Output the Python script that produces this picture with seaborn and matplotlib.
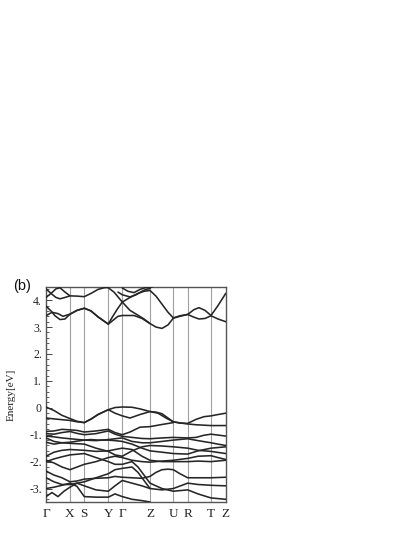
import numpy as np
import pandas as pd
import matplotlib
matplotlib.use("Agg")
import matplotlib.pyplot as plt
import seaborn as sns
from matplotlib.ticker import FixedLocator, FixedFormatter, MultipleLocator

sns.set_theme(style="white")
plt.rcParams['font.family'] = ['Liberation Serif', 'DejaVu Serif']

# high-symmetry path (cumulative k distance) and labels
kpoint_pos = [0, 24, 38.3, 62.3, 76.3, 104, 127.3, 141.7, 165, 179.7]
kpoint_labels = ["Γ", "X", "S", "Y", "Γ", "Z", "U", "R", "T", "Z"]

# y ticks
ytick_vals = [4, 3, 2, 1, 0, -1, -2, -3]
ytick_text = ["4.", "3.", "2.", "1.", "0", "-1.", "-2.", "-3."]

# ---- bands (k, E[eV]) ----
c1_k = [0, 6, 12, 17, 24, 31, 38.3, 45, 52, 62.3, 67, 72, 76.3, 88, 96, 104, 110, 116, 122, 127.3, 134, 141.7, 147, 153, 159, 165, 172, 179.7]
c1_E = [3.42, 3.55, 3.50, 3.40, 3.48, 3.62, 3.70, 3.60, 3.38, 3.11, 3.25, 3.40, 3.43, 3.43, 3.32, 3.13, 3.00, 2.95, 3.08, 3.33, 3.40, 3.47, 3.38, 3.30, 3.32, 3.42, 3.30, 3.20]
c2_k = [0, 5, 9, 14, 19, 24, 31, 38.3, 45, 52, 62.3, 66, 71, 76.3, 84, 92, 98, 104, 110, 116, 122, 127.3, 134, 141.7, 148, 153, 159, 165, 172, 179.7]
c2_E = [3.78, 3.60, 3.42, 3.28, 3.30, 3.48, 3.62, 3.70, 3.60, 3.38, 3.11, 3.35, 3.65, 3.93, 4.10, 4.25, 4.33, 4.36, 4.15, 3.85, 3.55, 3.34, 3.42, 3.47, 3.65, 3.72, 3.62, 3.43, 3.80, 4.25]
c3_k = [62.3, 68, 76.3, 84, 92, 98, 104]
c3_E = [4.46, 4.30, 3.93, 3.62, 3.44, 3.30, 3.13]
c4_k = [0, 5, 10, 14, 19, 24, 31, 38.3, 45, 52, 58, 62.3]
c4_E = [4.42, 4.25, 4.10, 4.05, 4.10, 4.16, 4.15, 4.13, 4.25, 4.40, 4.46, 4.47]
c5_k = [0, 5, 10, 14, 19, 24]
c5_E = [4.10, 4.25, 4.42, 4.46, 4.30, 4.16]
c6_k = [76.3, 82, 88, 94, 100, 104, 108]
c6_E = [4.45, 4.33, 4.28, 4.40, 4.47, 4.46, 4.52]
c7_k = [72, 76.3, 84, 90, 96, 100, 104]
c7_E = [4.30, 4.20, 4.12, 4.20, 4.33, 4.40, 4.43]

v1_k = [0, 8, 16, 24, 31, 38.3, 45, 52, 62.3, 69, 76.3, 86, 94, 104, 110, 116, 122, 127.3, 134, 141.7, 150, 158, 165, 172, 179.7]
v1_E = [0.03, -0.10, -0.28, -0.40, -0.50, -0.55, -0.42, -0.25, -0.07, 0.01, 0.03, 0.02, -0.04, -0.14, -0.16, -0.22, -0.38, -0.52, -0.57, -0.58, -0.43, -0.33, -0.30, -0.25, -0.20]
v2_k = [0, 10, 24, 31, 38.3, 45, 52, 62.3, 69, 76.3, 84, 94, 104, 112, 120, 127.3, 134, 141.7, 150, 165, 179.7]
v2_E = [-0.38, -0.42, -0.47, -0.52, -0.55, -0.42, -0.25, -0.07, -0.20, -0.30, -0.38, -0.25, -0.14, -0.20, -0.38, -0.52, -0.56, -0.60, -0.63, -0.66, -0.66]
v3_k = [0, 8, 16, 24, 31, 38.3, 50, 62.3, 69, 76.3, 84, 94, 104, 116, 127.3]
v3_E = [-0.88, -0.86, -0.80, -0.82, -0.84, -0.90, -0.86, -0.80, -0.92, -1.00, -0.90, -0.72, -0.70, -0.62, -0.55]
v4_k = [0, 8, 16, 24, 31, 38.3, 50, 62.3, 69, 76.3, 86, 96, 104, 116, 127.3, 141.7, 150, 158, 165, 179.7]
v4_E = [-0.96, -0.98, -0.92, -0.88, -0.95, -1.00, -0.96, -0.86, -0.98, -1.06, -1.10, -1.14, -1.15, -1.12, -1.10, -1.12, -1.10, -1.02, -0.98, -1.05]
v5_k = [0, 8, 16, 24, 38.3, 50, 62.3, 69, 76.3, 86, 96, 104, 116, 127.3, 141.7, 152, 165, 172, 179.7]
v5_E = [-1.05, -1.08, -1.12, -1.15, -1.20, -1.22, -1.18, -1.15, -1.12, -1.25, -1.30, -1.30, -1.25, -1.20, -1.15, -1.22, -1.30, -1.35, -1.40]
v6_k = [0, 8, 16, 24, 38.3, 50, 62.3, 69, 76.3, 86, 96, 104, 116, 127.3, 141.7, 152, 165, 179.7]
v6_E = [-1.12, -1.25, -1.30, -1.32, -1.35, -1.50, -1.62, -1.75, -1.80, -1.60, -1.45, -1.40, -1.42, -1.45, -1.50, -1.58, -1.62, -1.70]
v7_k = [0, 8, 16, 24, 38.3, 45, 52, 62.3, 69, 76.3, 86, 96, 104, 116, 127.3, 141.7, 152, 165, 179.7]
v7_E = [-1.28, -1.35, -1.30, -1.28, -1.20, -1.18, -1.20, -1.20, -1.22, -1.25, -1.35, -1.50, -1.60, -1.65, -1.70, -1.72, -1.60, -1.50, -1.45]
v8_k = [0, 8, 16, 24, 38.3, 50, 62.3, 69, 76.3, 86, 96, 104, 116, 127.3, 141.7, 152, 165, 179.7]
v8_E = [-1.80, -1.65, -1.58, -1.55, -1.58, -1.62, -1.60, -1.55, -1.50, -1.55, -1.80, -1.95, -2.00, -2.00, -2.00, -1.98, -2.00, -1.95]
v9_k = [0, 8, 16, 24, 38.3, 50, 62.3, 69, 76.3, 86, 92, 98, 104, 116, 127.3, 141.7, 152, 165, 179.7]
v9_E = [-2.00, -1.90, -1.82, -1.75, -1.70, -1.85, -2.00, -2.10, -2.10, -2.00, -2.20, -2.50, -2.80, -3.00, -3.10, -3.05, -3.20, -3.35, -3.40]
v10_k = [0, 8, 16, 24, 31, 38.3, 50, 62.3, 69, 76.3, 86, 96, 104, 110, 116, 122, 127.3, 134, 141.7, 152, 165, 179.7]
v10_E = [-2.35, -2.50, -2.60, -2.75, -2.72, -2.65, -2.62, -2.60, -2.55, -2.58, -2.60, -2.62, -2.55, -2.40, -2.30, -2.28, -2.30, -2.45, -2.60, -2.60, -2.60, -2.58]
v11_k = [0, 8, 16, 24, 31, 38.3, 50, 62.3, 69, 76.3, 86, 96, 104, 116, 127.3, 141.7, 152, 165, 179.7]
v11_E = [-2.60, -2.75, -2.85, -2.85, -2.80, -2.90, -3.05, -3.10, -2.90, -2.70, -2.80, -2.90, -3.00, -3.05, -3.00, -2.80, -2.85, -2.88, -2.90]
v12_k = [0, 8, 16, 24, 31, 38.3, 50, 62.3, 69, 76.3, 86, 96, 104]
v12_E = [-3.00, -2.95, -2.88, -2.80, -2.92, -3.30, -3.32, -3.32, -3.20, -3.30, -3.40, -3.45, -3.50]
v13_k = [0, 6, 12, 18, 24, 31, 38.3, 50, 62.3, 69, 76.3, 86, 92, 98, 104]
v13_E = [-3.30, -3.15, -3.30, -3.10, -2.95, -2.80, -2.75, -2.60, -2.45, -2.30, -2.25, -2.20, -2.40, -2.70, -3.00]
v14_k = [0, 8, 16, 24, 38.3, 50, 62.3, 69, 76.3, 86, 96, 104, 116, 127.3, 141.7, 152, 165, 172, 179.7]
v14_E = [-1.95, -2.05, -2.20, -2.30, -2.10, -2.00, -1.85, -1.80, -1.85, -1.95, -2.00, -2.02, -1.98, -1.95, -1.88, -1.80, -1.78, -1.85, -1.92]

bands = {
    "c1": (c1_k, c1_E), "c2": (c2_k, c2_E), "c3": (c3_k, c3_E), "c4": (c4_k, c4_E),
    "c5": (c5_k, c5_E), "c6": (c6_k, c6_E), "c7": (c7_k, c7_E),
    "v1": (v1_k, v1_E), "v2": (v2_k, v2_E), "v3": (v3_k, v3_E), "v4": (v4_k, v4_E),
    "v5": (v5_k, v5_E), "v6": (v6_k, v6_E), "v7": (v7_k, v7_E), "v8": (v8_k, v8_E),
    "v9": (v9_k, v9_E), "v10": (v10_k, v10_E), "v11": (v11_k, v11_E), "v12": (v12_k, v12_E),
    "v13": (v13_k, v13_E), "v14": (v14_k, v14_E),
}
rows = []
for name, (ks, es) in bands.items():
    for k, e in zip(ks, es):
        rows.append({"band": name, "k": k, "E": e})
df = pd.DataFrame(rows)

fig = plt.figure(figsize=(4.15, 5.37), dpi=100)
ax = fig.add_axes([0.1108, 0.0652, 0.4331, 0.4004])

for kp in kpoint_pos[1:-1]:
    ax.axvline(kp, color="#a0a0a0", lw=0.8, zorder=1)

sns.lineplot(data=df, x="k", y="E", units="band", estimator=None, sort=False,
             color="#262626", lw=1.15, ax=ax, zorder=3)

ax.set_xlim(kpoint_pos[0], kpoint_pos[-1])
ax.set_ylim(-3.5, 4.49)
ax.xaxis.set_major_locator(FixedLocator(kpoint_pos))
ax.xaxis.set_major_formatter(FixedFormatter(kpoint_labels))
ax.yaxis.set_major_locator(FixedLocator(ytick_vals))
ax.yaxis.set_major_formatter(FixedFormatter(ytick_text))
ax.yaxis.set_minor_locator(MultipleLocator(0.2))
ax.tick_params(axis="y", which="major", direction="in", length=4, width=0.7,
               color="#444444", labelsize=8.5, pad=3, left=True)
ax.tick_params(axis="y", which="minor", direction="in", length=2, width=0.6,
               color="#444444", left=True)
ax.tick_params(axis="x", which="major", length=0, labelsize=9.5, pad=4)
for lab in ax.get_xticklabels() + ax.get_yticklabels():
    lab.set_color("#222222")
for sp in ax.spines.values():
    sp.set_color("#555555")
    sp.set_linewidth(1.0)
ax.set_xlabel("")
ax.set_ylabel("Energy[eV]", fontsize=8, color="#222222", labelpad=10)
ax.grid(False)

fig.text(0.031, 0.455, "(b)", fontsize=10.5, family=["Liberation Sans", "DejaVu Sans"],
         color="#111111", va="bottom", ha="left")

fig.savefig("out.png", dpi=100)
